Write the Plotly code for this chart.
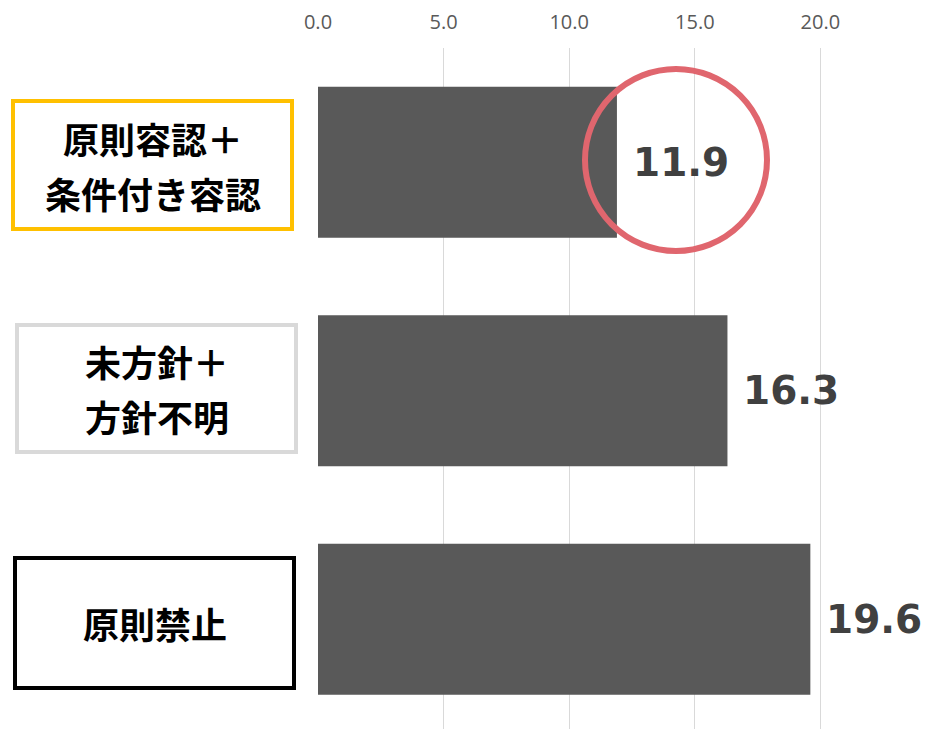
import plotly.graph_objects as go

# ---- data ----
categories = ["原則容認＋\n条件付き容認", "未方針＋\n方針不明", "原則禁止"]
values = [11.9, 16.3, 19.6]
value_labels = ["11.9", "16.3", "19.6"]
tick_vals = [0, 5, 10, 15, 20]
tick_text = ["0.0", "5.0", "10.0", "15.0", "20.0"]
box_colors = ["#FFC000", "#D9D9D9", "#000000"]

OFF = 8  # browser body margin
W, H = 930 - OFF, 729 - OFF
L, T = 318 - OFF, 48 - OFF
plot_w = W - L
plot_h = H - T
px_per_unit = 25.12
cat_px = 228.5
xmax = plot_w / px_per_unit
y_bottom = -0.5 + plot_h / cat_px

ypos = list(range(len(categories)))

fig = go.Figure()
fig.add_trace(go.Bar(
    x=values, y=ypos, orientation="h",
    marker=dict(color="#595959", line=dict(width=0)),
    width=0.66, hoverinfo="skip",
))

def px2paper_x(px):
    return (px - OFF - L) / plot_w

def px2paper_y(py):
    return (H - (py - OFF)) / plot_h

# value labels
for i, (v, lab) in enumerate(zip(values, value_labels)):
    fig.add_annotation(
        x=v, y=i, xref="x", yref="y", text=f"<b>{lab}</b>",
        showarrow=False, xanchor="left", yanchor="middle", xshift=14,
        font=dict(family="DejaVu Sans", size=39, color="#404040"),
    )

# red circle
cx, cy, r = 676, 160, 91
fig.add_shape(type="circle", xref="paper", yref="paper",
              x0=px2paper_x(cx - r), x1=px2paper_x(cx + r),
              y0=px2paper_y(cy + r), y1=px2paper_y(cy - r),
              line=dict(color="#E0666E", width=6), layer="above")

# label boxes
boxes = [(13, 101, 292, 229), (17, 325, 296, 452), (15, 558, 294, 688)]
for i, ((x0, y0, x1, y1), col) in enumerate(zip(boxes, box_colors)):
    fig.add_shape(type="rect", xref="paper", yref="paper",
                  x0=px2paper_x(x0), x1=px2paper_x(x1),
                  y0=px2paper_y(y1), y1=px2paper_y(y0),
                  line=dict(color=col, width=4), fillcolor="white")
    lines = categories[i].split("\n")
    cxp = (x0 + x1) / 2
    cyp = (y0 + y1) / 2
    gap = 55
    n = len(lines)
    for j, ln in enumerate(lines):
        ly = cyp + (j - (n - 1) / 2) * gap
        fig.add_annotation(
            x=px2paper_x(cxp), y=px2paper_y(ly), xref="paper", yref="paper",
            text=f"<b>{ln}</b>", showarrow=False, xanchor="center", yanchor="middle",
            font=dict(family="Noto Sans CJK JP", size=36, color="#000000"),
        )

fig.update_layout(
    width=W, height=H,
    margin=dict(l=L, r=0, t=T, b=0),
    paper_bgcolor="white", plot_bgcolor="white",
    showlegend=False,
    xaxis=dict(
        range=[0, xmax], side="top",
        tickvals=tick_vals, ticktext=tick_text,
        showgrid=True, gridcolor="#D9D9D9", gridwidth=1,
        zeroline=False, showline=False, ticks="",
        tickfont=dict(family="Open Sans", size=20, color="#595959"),
        ticklabelstandoff=14, fixedrange=True,
    ),
    yaxis=dict(
        range=[y_bottom, -0.5], showticklabels=False, showgrid=False,
        zeroline=False, showline=False, fixedrange=True,
    ),
)

fig.write_html("out.html")
